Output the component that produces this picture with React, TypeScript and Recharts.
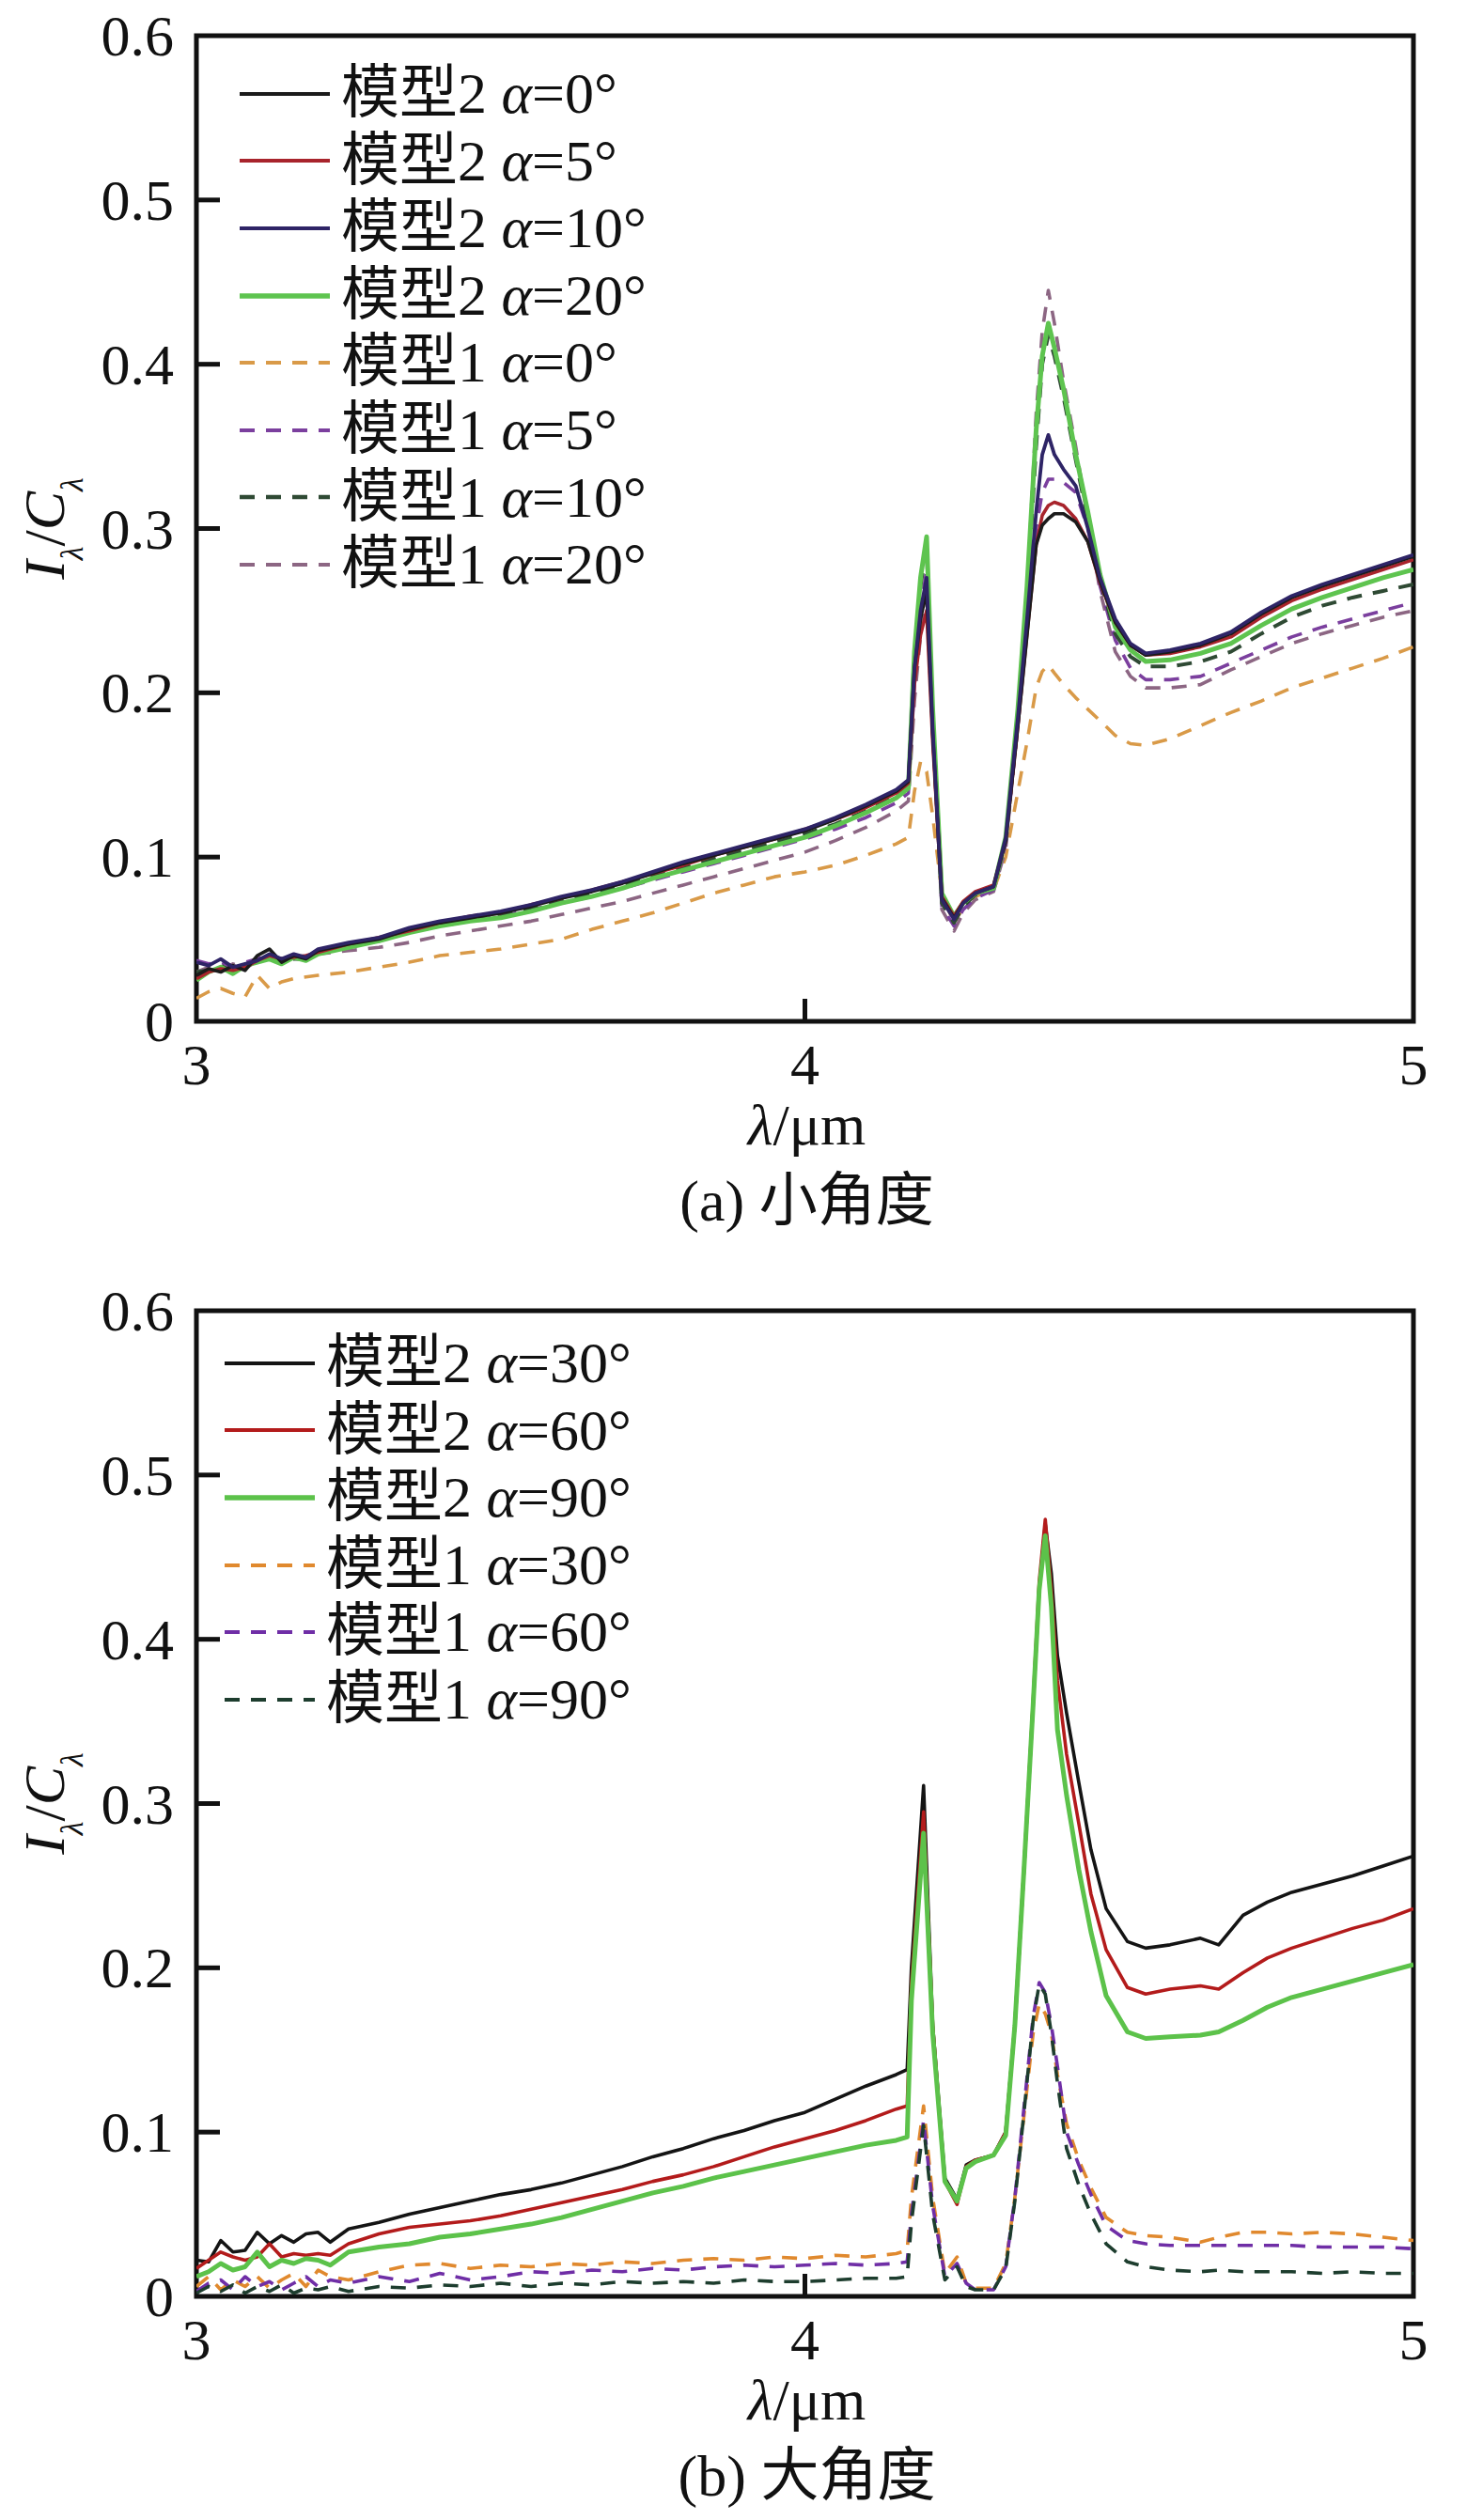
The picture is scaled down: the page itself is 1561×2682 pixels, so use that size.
import React from 'react';
import { LineChart, Line, XAxis, YAxis, ReferenceArea, Legend } from 'recharts';

// ---------------- data: panel (a) ----------------
const lambdaA = [
  3.00, 3.02, 3.04, 3.06, 3.08, 3.10, 3.12, 3.14, 3.16, 3.18, 3.20,
  3.25, 3.30, 3.35, 3.40, 3.45, 3.50, 3.55, 3.60, 3.65, 3.70, 3.75, 3.80, 3.85, 3.90, 3.95, 4.00, 4.05, 4.10, 4.15,
  4.17, 4.18, 4.19, 4.20, 4.21, 4.225, 4.245, 4.26, 4.28, 4.31, 4.33, 4.35, 4.365, 4.38, 4.39, 4.40, 4.41, 4.425, 4.445, 4.465, 4.485, 4.51, 4.535, 4.56,
  4.60, 4.65, 4.70, 4.75, 4.80, 4.85, 4.90, 4.95, 5.00,
];
const a_m2_0 = [
  0.028, 0.032, 0.030, 0.034, 0.031, 0.040, 0.044, 0.036, 0.040, 0.038, 0.043,
  0.047, 0.050, 0.056, 0.060, 0.063, 0.066, 0.070, 0.075, 0.079, 0.084, 0.090, 0.096, 0.101, 0.106, 0.111, 0.116, 0.123, 0.131, 0.140,
  0.146, 0.215, 0.245, 0.262, 0.175, 0.075, 0.063, 0.072, 0.078, 0.082, 0.110, 0.180, 0.235, 0.290, 0.302, 0.306, 0.309, 0.309, 0.304, 0.292, 0.268, 0.243, 0.229, 0.223,
  0.225, 0.229, 0.236, 0.248, 0.258, 0.265, 0.271, 0.277, 0.283,
];
const a_m2_5 = [
  0.026, 0.030, 0.032, 0.031, 0.033, 0.037, 0.040, 0.038, 0.039, 0.040, 0.042,
  0.047, 0.051, 0.055, 0.060, 0.064, 0.066, 0.071, 0.075, 0.080, 0.085, 0.090, 0.095, 0.101, 0.106, 0.111, 0.117, 0.123, 0.130, 0.139,
  0.145, 0.205, 0.235, 0.250, 0.170, 0.076, 0.064, 0.073, 0.079, 0.083, 0.110, 0.180, 0.236, 0.290, 0.308, 0.314, 0.316, 0.314, 0.306, 0.292, 0.267, 0.243, 0.229, 0.223,
  0.224, 0.228, 0.234, 0.246, 0.256, 0.263, 0.269, 0.275, 0.281,
];
const a_m2_10 = [
  0.036, 0.034, 0.038, 0.033, 0.035, 0.037, 0.041, 0.038, 0.041, 0.039, 0.044,
  0.048, 0.051, 0.057, 0.061, 0.064, 0.067, 0.071, 0.076, 0.080, 0.085, 0.091, 0.097, 0.102, 0.107, 0.112, 0.117, 0.124, 0.132, 0.141,
  0.147, 0.215, 0.250, 0.270, 0.178, 0.074, 0.062, 0.072, 0.078, 0.082, 0.112, 0.185, 0.245, 0.310, 0.345, 0.357, 0.345, 0.336, 0.326, 0.300, 0.270, 0.245, 0.230, 0.224,
  0.226, 0.230, 0.237, 0.249, 0.259, 0.266, 0.272, 0.278, 0.284,
];
const a_m2_20 = [
  0.025, 0.030, 0.033, 0.029, 0.034, 0.036, 0.038, 0.035, 0.039, 0.037, 0.041,
  0.045, 0.049, 0.054, 0.058, 0.061, 0.063, 0.067, 0.072, 0.076, 0.081, 0.087, 0.092, 0.097, 0.102, 0.107, 0.112, 0.119, 0.127, 0.136,
  0.142, 0.225, 0.270, 0.295, 0.190, 0.078, 0.064, 0.072, 0.078, 0.081, 0.112, 0.190, 0.265, 0.360, 0.405, 0.425, 0.410, 0.385, 0.345, 0.310, 0.272, 0.240, 0.226, 0.219,
  0.220, 0.224, 0.230, 0.241, 0.251, 0.258, 0.264, 0.270, 0.275,
];
const a_m1_0 = [
  0.014, 0.018, 0.020, 0.017, 0.015, 0.028, 0.020, 0.024, 0.026, 0.027, 0.028,
  0.030, 0.033, 0.036, 0.040, 0.042, 0.044, 0.047, 0.050, 0.056, 0.061, 0.066, 0.072, 0.078, 0.083, 0.088, 0.091, 0.095, 0.101, 0.108,
  0.112, 0.140, 0.158, 0.152, 0.125, 0.078, 0.060, 0.069, 0.076, 0.080, 0.100, 0.140, 0.170, 0.203, 0.213, 0.217, 0.212, 0.205, 0.197, 0.190, 0.183, 0.174, 0.169, 0.168,
  0.172, 0.180, 0.188, 0.195, 0.203, 0.209, 0.215, 0.221, 0.228,
];
const a_m1_5 = [
  0.037, 0.035, 0.036, 0.033, 0.036, 0.038, 0.040, 0.037, 0.040, 0.039, 0.043,
  0.046, 0.049, 0.054, 0.058, 0.061, 0.064, 0.068, 0.072, 0.076, 0.081, 0.086, 0.091, 0.096, 0.101, 0.106, 0.111, 0.117, 0.124, 0.133,
  0.139, 0.205, 0.250, 0.275, 0.180, 0.070, 0.058, 0.068, 0.075, 0.080, 0.108, 0.180, 0.240, 0.300, 0.322, 0.330, 0.330, 0.328, 0.322, 0.300, 0.265, 0.232, 0.215, 0.208,
  0.208, 0.210, 0.218, 0.226, 0.234, 0.240, 0.245, 0.250, 0.255,
];
const a_m1_10 = [
  0.030, 0.031, 0.034, 0.030, 0.033, 0.038, 0.040, 0.036, 0.038, 0.038, 0.042,
  0.046, 0.049, 0.055, 0.059, 0.062, 0.065, 0.069, 0.073, 0.078, 0.083, 0.088, 0.094, 0.099, 0.104, 0.109, 0.114, 0.120, 0.128, 0.137,
  0.143, 0.220, 0.265, 0.290, 0.185, 0.072, 0.060, 0.070, 0.077, 0.081, 0.110, 0.185, 0.258, 0.350, 0.400, 0.418, 0.405, 0.380, 0.342, 0.305, 0.268, 0.236, 0.222, 0.216,
  0.216, 0.219, 0.225, 0.236, 0.246, 0.253, 0.258, 0.262, 0.266,
];
const a_m1_20 = [
  0.030, 0.033, 0.031, 0.035, 0.032, 0.037, 0.040, 0.036, 0.039, 0.037, 0.041,
  0.043, 0.045, 0.048, 0.052, 0.055, 0.058, 0.061, 0.065, 0.069, 0.073, 0.078, 0.083, 0.088, 0.093, 0.098, 0.103, 0.110, 0.118, 0.128,
  0.134, 0.195, 0.235, 0.258, 0.175, 0.068, 0.055, 0.066, 0.074, 0.079, 0.105, 0.185, 0.260, 0.370, 0.420, 0.445, 0.425, 0.390, 0.350, 0.305, 0.262, 0.225, 0.210, 0.203,
  0.203, 0.205, 0.214, 0.222, 0.230, 0.236, 0.241, 0.246, 0.250,
];

// ---------------- data: panel (b) ----------------
const lambdaB = [
  3.00, 3.02, 3.04, 3.06, 3.08, 3.10, 3.12, 3.14, 3.16, 3.18, 3.20, 3.22,
  3.25, 3.30, 3.35, 3.40, 3.45, 3.50, 3.55, 3.60, 3.65, 3.70, 3.75, 3.80, 3.85, 3.90, 3.95, 4.00, 4.05, 4.10, 4.15,
  4.168, 4.175, 4.195, 4.21, 4.23, 4.25, 4.265, 4.28, 4.31, 4.33, 4.345, 4.36, 4.375, 4.385, 4.395, 4.405, 4.415, 4.43, 4.45, 4.47, 4.495, 4.53, 4.56,
  4.60, 4.65, 4.68, 4.72, 4.76, 4.80, 4.85, 4.90, 4.95, 5.00,
];
const b_m2_30 = [
  0.022, 0.021, 0.034, 0.027, 0.028, 0.039, 0.032, 0.037, 0.033, 0.038, 0.039, 0.033,
  0.041, 0.045, 0.050, 0.054, 0.058, 0.062, 0.065, 0.069, 0.074, 0.079, 0.085, 0.090, 0.096, 0.101, 0.107, 0.112, 0.120, 0.128, 0.135,
  0.138, 0.200, 0.311, 0.165, 0.072, 0.059, 0.080, 0.083, 0.086, 0.100, 0.165, 0.260, 0.360, 0.430, 0.470, 0.440, 0.390, 0.355, 0.313, 0.272, 0.236, 0.216, 0.212,
  0.214, 0.218, 0.214, 0.232, 0.240, 0.246, 0.251, 0.256, 0.262, 0.268,
];
const b_m2_60 = [
  0.017, 0.022, 0.027, 0.024, 0.022, 0.024, 0.032, 0.024, 0.026, 0.025, 0.026, 0.025,
  0.032, 0.038, 0.042, 0.044, 0.046, 0.049, 0.053, 0.057, 0.061, 0.065, 0.070, 0.074, 0.079, 0.085, 0.091, 0.096, 0.101, 0.107, 0.114,
  0.116, 0.190, 0.295, 0.165, 0.070, 0.056, 0.079, 0.083, 0.086, 0.100, 0.165, 0.260, 0.362, 0.435, 0.473, 0.430, 0.375, 0.330, 0.288, 0.245, 0.211, 0.188, 0.184,
  0.187, 0.189, 0.187, 0.197, 0.206, 0.212, 0.218, 0.224, 0.229, 0.236,
];
const b_m2_90 = [
  0.012, 0.015, 0.020, 0.016, 0.018, 0.027, 0.018, 0.022, 0.020, 0.023, 0.022, 0.019,
  0.027, 0.030, 0.032, 0.036, 0.038, 0.041, 0.044, 0.048, 0.053, 0.058, 0.063, 0.067, 0.072, 0.076, 0.080, 0.084, 0.088, 0.092, 0.095,
  0.097, 0.180, 0.282, 0.160, 0.070, 0.058, 0.078, 0.082, 0.086, 0.098, 0.165, 0.260, 0.360, 0.430, 0.463, 0.420, 0.345, 0.305, 0.260, 0.222, 0.183, 0.161, 0.157,
  0.158, 0.159, 0.161, 0.168, 0.176, 0.182, 0.187, 0.192, 0.197, 0.202,
];
const b_m1_30 = [
  0.006, 0.012, 0.004, 0.010, 0.006, 0.012, 0.005, 0.010, 0.014, 0.006, 0.016, 0.012,
  0.010, 0.015, 0.019, 0.020, 0.017, 0.019, 0.018, 0.020, 0.019, 0.021, 0.020, 0.022, 0.023, 0.022, 0.024, 0.023, 0.025, 0.024, 0.026,
  0.028, 0.060, 0.116, 0.060, 0.014, 0.024, 0.008, 0.005, 0.005, 0.020, 0.060, 0.110, 0.160, 0.178, 0.172, 0.160, 0.135, 0.105, 0.083, 0.066, 0.048, 0.039, 0.037,
  0.036, 0.033, 0.036, 0.039, 0.039, 0.038, 0.039, 0.038, 0.036, 0.034,
];
const b_m1_60 = [
  0.003, 0.008, 0.010, 0.004, 0.012, 0.006, 0.009, 0.004, 0.008, 0.012, 0.006, 0.010,
  0.008, 0.012, 0.009, 0.014, 0.010, 0.012, 0.015, 0.014, 0.016, 0.015, 0.017, 0.016, 0.018, 0.019, 0.018, 0.019, 0.020, 0.019, 0.020,
  0.021, 0.050, 0.107, 0.055, 0.012, 0.020, 0.008, 0.004, 0.004, 0.018, 0.060, 0.115, 0.170, 0.191, 0.185, 0.165, 0.140, 0.100, 0.080, 0.062, 0.043, 0.034, 0.032,
  0.031, 0.031, 0.031, 0.031, 0.031, 0.031, 0.030, 0.030, 0.030, 0.029,
];
const b_m1_90 = [
  0.002, 0.006, 0.003, 0.007, 0.002, 0.006, 0.003, 0.007, 0.002, 0.005, 0.004, 0.006,
  0.003, 0.006, 0.005, 0.007, 0.006, 0.008, 0.006, 0.008, 0.007, 0.009, 0.008, 0.009, 0.008, 0.010, 0.009, 0.009, 0.010, 0.011, 0.011,
  0.012, 0.045, 0.104, 0.050, 0.010, 0.018, 0.006, 0.004, 0.004, 0.017, 0.058, 0.112, 0.168, 0.190, 0.184, 0.160, 0.130, 0.090, 0.068, 0.050, 0.032, 0.021, 0.018,
  0.016, 0.015, 0.016, 0.015, 0.015, 0.015, 0.014, 0.015, 0.014, 0.014,
];

// ---------------- ticks & labels ----------------
const xTicks = [3, 4, 5];
const yTicks = [0, 0.1, 0.2, 0.3, 0.4, 0.5, 0.6];
const captionA = '(a) 小角度';
const captionB = '(b) 大角度';

// ---------------- build tables ----------------
const rowsA = lambdaA.map((x, i) => ({
  x,
  a20: a_m2_0[i], a25: a_m2_5[i], a210: a_m2_10[i], a220: a_m2_20[i],
  a10: a_m1_0[i], a15: a_m1_5[i], a110: a_m1_10[i], a120: a_m1_20[i],
}));
const rowsB = lambdaB.map((x, i) => ({
  x,
  b230: b_m2_30[i], b260: b_m2_60[i], b290: b_m2_90[i],
  b130: b_m1_30[i], b160: b_m1_60[i], b190: b_m1_90[i],
}));

type Series = { key: string; model: string; angle: string; color: string; width: number; dash?: string };

const DASH = '16 12';
const seriesA: Series[] = [
  { key: 'a20', model: '模型2', angle: '0', color: '#1b1b1b', width: 3.6 },
  { key: 'a25', model: '模型2', angle: '5', color: '#a8242c', width: 3.6 },
  { key: 'a210', model: '模型2', angle: '10', color: '#2e2466', width: 3.8 },
  { key: 'a220', model: '模型2', angle: '20', color: '#5ec44f', width: 5 },
  { key: 'a10', model: '模型1', angle: '0', color: '#d99a48', width: 3.6, dash: DASH },
  { key: 'a15', model: '模型1', angle: '5', color: '#7b3f9e', width: 3.6, dash: DASH },
  { key: 'a110', model: '模型1', angle: '10', color: '#2f4a34', width: 4, dash: DASH },
  { key: 'a120', model: '模型1', angle: '20', color: '#8c6683', width: 3.6, dash: DASH },
];
const drawOrderA = ['a10', 'a120', 'a15', 'a110', 'a220', 'a25', 'a20', 'a210'];

const seriesB: Series[] = [
  { key: 'b230', model: '模型2', angle: '30', color: '#141414', width: 3.6 },
  { key: 'b260', model: '模型2', angle: '60', color: '#b31b1b', width: 3.6 },
  { key: 'b290', model: '模型2', angle: '90', color: '#5cc24a', width: 5 },
  { key: 'b130', model: '模型1', angle: '30', color: '#e0892e', width: 3.6, dash: DASH },
  { key: 'b160', model: '模型1', angle: '60', color: '#6f2ea6', width: 3.6, dash: DASH },
  { key: 'b190', model: '模型1', angle: '90', color: '#1d3d2e', width: 3.6, dash: DASH },
];
const drawOrderB = ['b230', 'b260', 'b290', 'b130', 'b160', 'b190'];

// ---------------- styling helpers ----------------
const FONT = '"Liberation Serif", "Times New Roman", "Noto Sans CJK SC", serif';
const INK = '#111';
const FS = 62;

const XTick = (props: any) => {
  const { x, y, payload } = props;
  const v = payload.value;
  return (
    <g>
      {v > 3 && v < 5 && <line x1={x} y1={y} x2={x} y2={y - 24} stroke={INK} strokeWidth={5} />}
      <text x={x} y={y + 67} textAnchor="middle" fontFamily={FONT} fontSize={FS} fill={INK}>{String(v)}</text>
    </g>
  );
};

const YTick = (props: any) => {
  const { x, y, payload } = props;
  const v = payload.value;
  const label = v === 0 ? '0' : Number(v).toFixed(1);
  return (
    <g>
      {v > 0 && v < 0.6 && <line x1={x} y1={y} x2={x + 25} y2={y} stroke={INK} strokeWidth={5} />}
      <text x={x - 24} y={y + 21} textAnchor="end" fontFamily={FONT} fontSize={FS} fill={INK}>{label}</text>
    </g>
  );
};

const YLabel = (props: any) => {
  const vb = props.viewBox || { x: 0, y: 38, width: 209, height: 1049 };
  const cy = vb.y + vb.height / 2;
  return (
    <text transform={`translate(68, ${cy}) rotate(-90)`} textAnchor="middle" fontFamily={FONT} fontSize={FS} fill={INK}>
      <tspan fontStyle="italic">I</tspan>
      <tspan fontStyle="italic" fontSize={34} dy={20}>λ</tspan>
      <tspan dy={-20}>/</tspan>
      <tspan fontStyle="italic">C</tspan>
      <tspan fontStyle="italic" fontSize={34} dy={20}>λ</tspan>
    </text>
  );
};

const XLabel = (props: any) => {
  const vb = props.viewBox || { x: 209, y: 1087, width: 1295, height: 253 };
  const cx = vb.x + vb.width / 2 + 2;
  const y0 = vb.y;
  return (
    <g>
      <text x={cx} y={y0 + 131} textAnchor="middle" fontFamily={FONT} fontSize={FS} fill={INK}>
        <tspan fontStyle="italic">λ</tspan>/μm
      </text>
      <text x={cx} y={y0 + 212} textAnchor="middle" fontFamily={FONT} fontSize={FS} fill={INK}>{props.caption}</text>
    </g>
  );
};

const LegendBox = ({ items }: { items: Series[] }) => (
  <div style={{ fontFamily: FONT, fontSize: FS, color: INK }}>
    {items.map((it) => (
      <div key={it.key} style={{ display: 'flex', alignItems: 'center', height: 71.6, lineHeight: '71.6px', whiteSpace: 'nowrap' }}>
        <svg width={96} height={20} style={{ marginRight: 12, flex: 'none', display: 'block' }}>
          <line x1={0} y1={10} x2={96} y2={10} stroke={it.color} strokeWidth={it.width + 0.3} strokeDasharray={it.dash} />
        </svg>
        <span>
          {it.model} <i>α</i>={it.angle}°
        </span>
      </div>
    ))}
  </div>
);

const Panel = ({ rows, series, order, caption, height, legendLeft, legendTop }: any) => {
  const byKey: Record<string, Series> = {};
  series.forEach((s: Series) => (byKey[s.key] = s));
  return (
    <LineChart width={1561} height={height} data={rows} margin={{ top: 38, right: 57, bottom: 0, left: 0 }}>
      <XAxis
        dataKey="x"
        type="number"
        domain={[3, 5]}
        ticks={xTicks}
        interval={0}
        allowDataOverflow
        axisLine={false}
        tickLine={false}
        tickSize={0}
        tickMargin={0}
        height={height - 38 - 1049}
        tick={<XTick />}
        label={<XLabel caption={caption} />}
      />
      <YAxis
        type="number"
        domain={[0, 0.6]}
        ticks={yTicks}
        interval={0}
        allowDataOverflow
        axisLine={false}
        tickLine={false}
        tickSize={0}
        tickMargin={0}
        width={209}
        tick={<YTick />}
        label={<YLabel />}
      />
      {order.map((k: string) => {
        const s = byKey[k];
        return (
          <Line
            key={k}
            type="linear"
            dataKey={k}
            stroke={s.color}
            strokeWidth={s.width}
            strokeDasharray={s.dash}
            dot={false}
            activeDot={false}
            isAnimationActive={false}
            strokeLinejoin="round"
          />
        );
      })}
      <ReferenceArea x1={3} x2={5} y1={0} y2={0.6} fill="none" fillOpacity={0} stroke={INK} strokeWidth={5} />
      <Legend
        layout="vertical"
        align="center"
        verticalAlign="middle"
        wrapperStyle={{ left: legendLeft, top: legendTop, width: 'auto', height: 'auto' }}
        content={() => <LegendBox items={series} />}
      />
    </LineChart>
  );
};

export default function App() {
  return (
    <div style={{ position: 'absolute', left: 0, top: 0, width: 1561, height: 2682, background: '#fff' }}>
      <div style={{ position: 'absolute', left: 0, top: 0 }}>
        <Panel rows={rowsA} series={seriesA} order={drawOrderA} caption={captionA} height={1340} legendLeft={255} legendTop={64} />
      </div>
      <div style={{ position: 'absolute', left: 0, top: 1357 }}>
        <Panel rows={rowsB} series={seriesB} order={drawOrderB} caption={captionB} height={1325} legendLeft={239} legendTop={58} />
      </div>
    </div>
  );
}
